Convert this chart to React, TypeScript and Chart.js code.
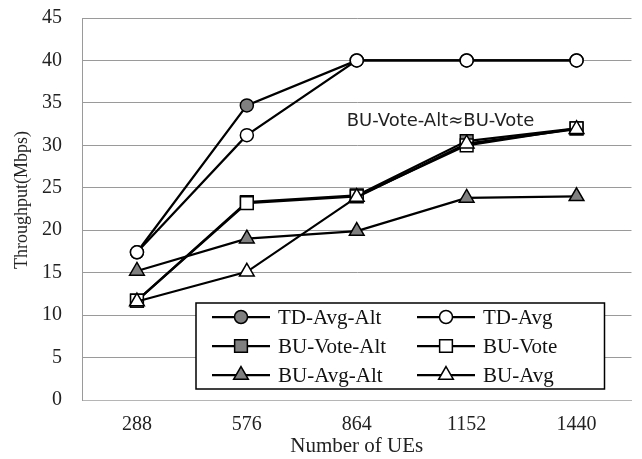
import React, { useEffect, useRef } from 'react';
import { Chart, registerables } from 'chart.js';

Chart.register(...registerables);

// ---- data ----
const categories = ['288', '576', '864', '1152', '1440'];
const seriesNames = ['TD-Avg-Alt', 'TD-Avg', 'BU-Vote-Alt', 'BU-Vote', 'BU-Avg-Alt', 'BU-Avg'];
const tdAvgAlt = [17.4, 34.7, 40, 40, 40];
const tdAvg = [17.4, 31.2, 40, 40, 40];
const buVoteAlt = [11.7, 23.3, 24.1, 30.5, 32.0];
const buVote = [11.7, 23.2, 24.0, 30.0, 32.0];
const buAvgAlt = [15.2, 19.0, 19.9, 23.8, 24.0];
const buAvg = [11.6, 15.1, 23.9, 30.2, 31.9];
const seriesValues = [tdAvgAlt, tdAvg, buVoteAlt, buVote, buAvgAlt, buAvg];
const pointStyles = ['circle', 'circle', 'rect', 'rect', 'triangle', 'triangle'];
const filled = [true, false, true, false, true, false];
const yMin = 0;
const yMax = 45;
const yStep = 5;
const xTitle = 'Number of UEs';
const yTitle = 'Throughput(Mbps)';
const annotationText = 'BU-Vote-Alt\u2248BU-Vote';

const GRAY = '#808080';
const radiusFor: Record<string, number> = { circle: 6.5, rect: 9, triangle: 8.5 };

function drawMarker(ctx: CanvasRenderingContext2D, style: string, x: number, y: number, r: number, fill: string) {
  ctx.beginPath();
  if (style === 'circle') {
    ctx.arc(x, y, r, 0, Math.PI * 2);
  } else if (style === 'rect') {
    const s = Math.SQRT1_2 * r;
    ctx.rect(x - s, y - s, 2 * s, 2 * s);
  } else {
    let rad = 0;
    ctx.moveTo(x + Math.sin(rad) * r, y - Math.cos(rad) * r);
    rad += (2 * Math.PI) / 3;
    ctx.lineTo(x + Math.sin(rad) * r, y - Math.cos(rad) * r);
    rad += (2 * Math.PI) / 3;
    ctx.lineTo(x + Math.sin(rad) * r, y - Math.cos(rad) * r);
    ctx.closePath();
  }
  ctx.fillStyle = fill;
  ctx.fill();
  ctx.lineWidth = 1.5;
  ctx.strokeStyle = '#000';
  ctx.stroke();
}

const overlayPlugin = {
  id: 'overlay',
  afterDatasetsDraw(chart: any) {
    const { ctx, chartArea, scales } = chart;
    const xs = scales.x;
    const ys = scales.y;
    ctx.save();
    // y axis title
    ctx.save();
    ctx.translate(ys.left + 22, (chartArea.top + chartArea.bottom) / 2 - 9);
    ctx.rotate(-Math.PI / 2);
    ctx.font = '18px "Liberation Serif"';
    ctx.fillStyle = '#222';
    ctx.textAlign = 'center';
    ctx.textBaseline = 'middle';
    ctx.fillText(yTitle, 0, 0);
    ctx.restore();

    // annotation
    ctx.font = '18px "DejaVu Sans"';
    ctx.fillStyle = '#222';
    ctx.textBaseline = 'alphabetic';
    ctx.textAlign = 'left';
    ctx.fillText(annotationText, xs.getPixelForValue(2) - 10, ys.getPixelForValue(32.3));

    // legend box
    const left = chartArea.left + 114;
    const right = chartArea.right - 27;
    const top = chartArea.bottom - 97;
    const bottom = chartArea.bottom - 11;
    ctx.fillStyle = '#fff';
    ctx.fillRect(left, top, right - left, bottom - top);
    ctx.lineWidth = 1.5;
    ctx.strokeStyle = '#000';
    ctx.strokeRect(left, top, right - left, bottom - top);

    ctx.font = '21px "Liberation Serif"';
    ctx.textBaseline = 'middle';
    chart.data.datasets.forEach((ds: any, i: number) => {
      const col = i % 2;
      const row = Math.floor(i / 2);
      const lx = left + 16 + col * 205;
      const ly = top + 14 + row * 29;
      ctx.beginPath();
      ctx.moveTo(lx, ly);
      ctx.lineTo(lx + 58, ly);
      ctx.lineWidth = 2.25;
      ctx.strokeStyle = '#000';
      ctx.stroke();
      drawMarker(ctx, ds.pointStyle, lx + 29, ly, ds.pointRadius, ds.pointBackgroundColor);
      ctx.fillStyle = '#111';
      ctx.fillText(ds.label, lx + 66, ly + 1);
    });
    ctx.restore();
  },
};

export default function App() {
  const ref = useRef<HTMLCanvasElement>(null);
  useEffect(() => {
    if (!ref.current) return;
    const datasets = seriesNames.map((name, i) => ({
      label: name,
      data: seriesValues[i],
      borderColor: '#000',
      borderWidth: 2.25,
      pointStyle: pointStyles[i],
      pointRadius: radiusFor[pointStyles[i]],
      pointHoverRadius: radiusFor[pointStyles[i]],
      pointBackgroundColor: filled[i] ? GRAY : '#fff',
      pointBorderColor: '#000',
      pointBorderWidth: 1.5,
      tension: 0,
      fill: false,
      order: seriesNames.length - 1 - i,
    }));
    const chart = new Chart(ref.current, {
      type: 'line',
      data: { labels: categories, datasets },
      plugins: [overlayPlugin],
      options: {
        animation: false,
        responsive: false,
        maintainAspectRatio: false,
        layout: { padding: { top: 18, right: 8, left: 0, bottom: 0 } },
        plugins: { legend: { display: false }, tooltip: { enabled: false } },
        scales: {
          x: {
            type: 'category',
            offset: true,
            grid: { display: false, drawTicks: false },
            border: { display: true, color: '#b5b5b5', width: 1, dash: [2, 1] },
            ticks: { color: '#222', font: { family: '"Liberation Serif"', size: 20 }, padding: 13, maxRotation: 0 },
            title: {
              display: true,
              text: xTitle,
              color: '#222',
              font: { family: '"Liberation Serif"', size: 21, lineHeight: 1.2 },
              padding: { top: 0, bottom: 0 },
            },
            afterFit(scale: any) {
              scale.height = 59;
            },
          },
          y: {
            min: yMin,
            max: yMax,
            grid: {
              drawTicks: true,
              tickLength: 20,
              tickColor: 'rgba(0,0,0,0)',
              color: (c: any) => (c.tick && c.tick.value === 0 ? 'rgba(0,0,0,0)' : '#9a9a9a'),
              lineWidth: 1,
            },
            border: { display: true, color: '#9a9a9a', width: 1 },
            ticks: { stepSize: yStep, color: '#222', font: { family: '"Liberation Serif"', size: 20 }, padding: 0 },
            title: { display: false },
            afterFit(scale: any) {
              scale.width = 82;
            },
          },
        },
      },
    } as any);
    return () => chart.destroy();
  }, []);
  return (
    <canvas
      ref={ref}
      width={642}
      height={459}
      style={{ position: 'absolute', left: 0, top: 0, width: 642, height: 459, display: 'block' }}
    />
  );
}
